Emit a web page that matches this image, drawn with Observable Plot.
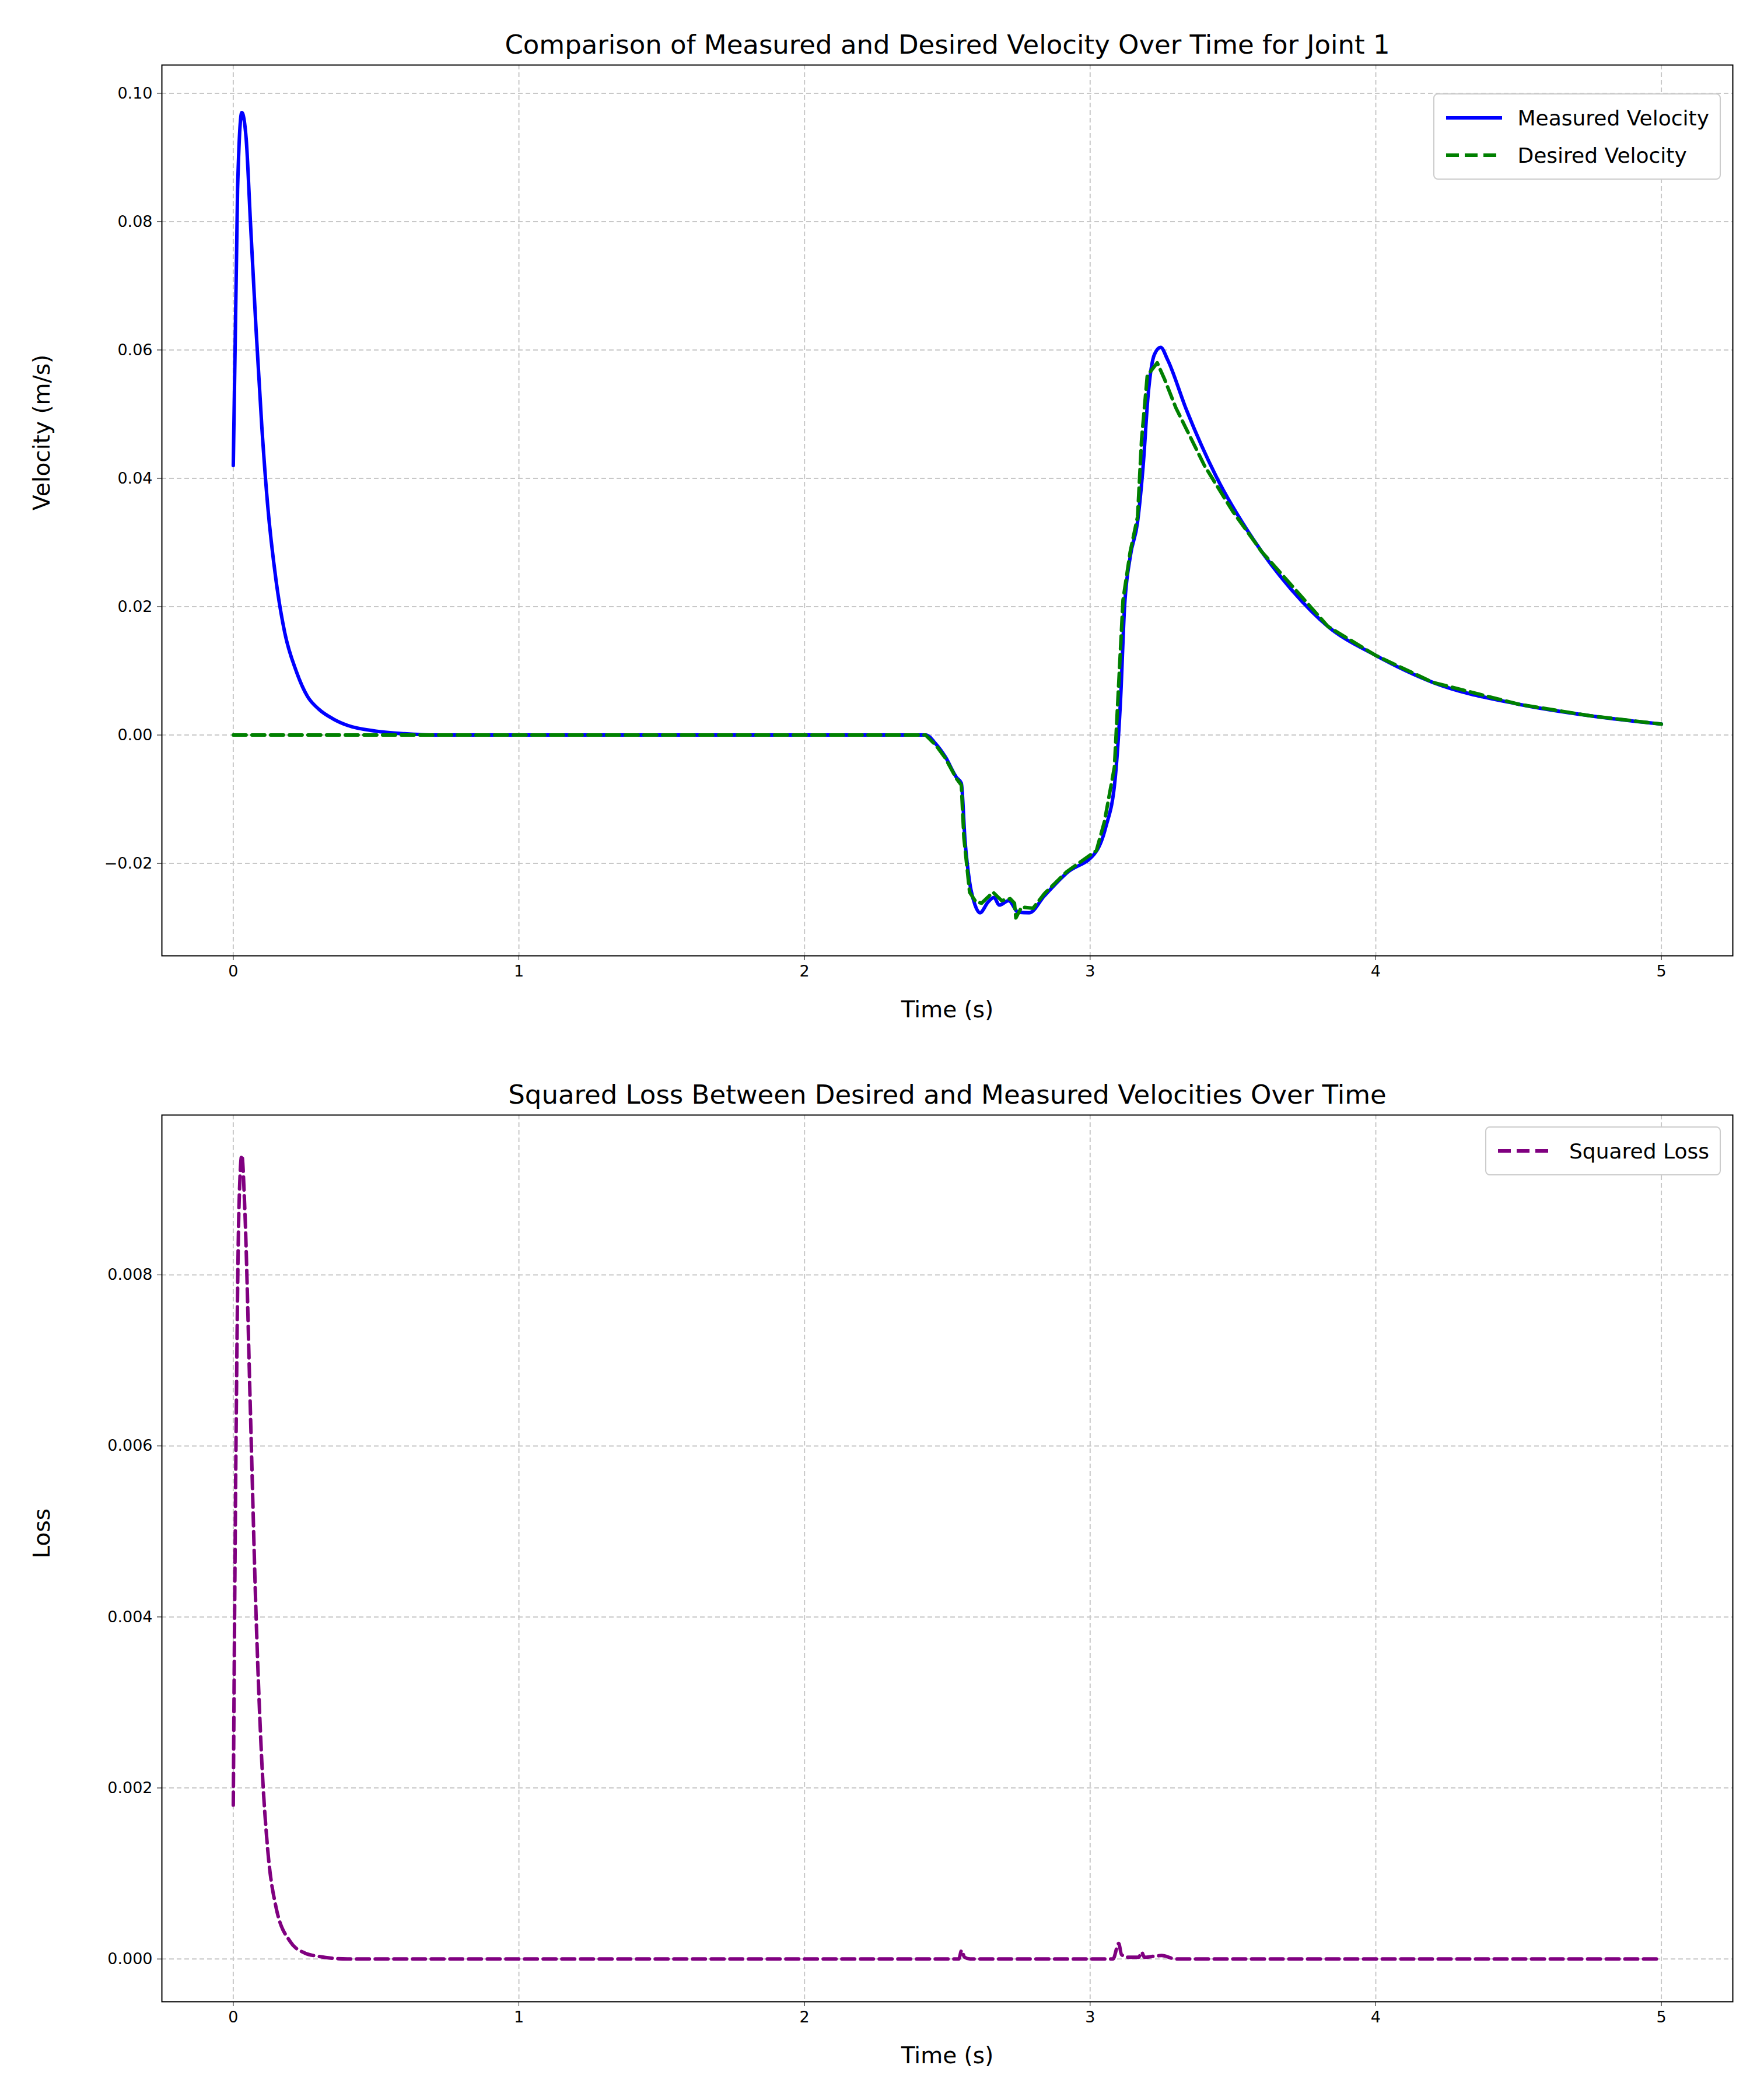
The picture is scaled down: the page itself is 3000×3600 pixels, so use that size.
<!DOCTYPE html>
<html><head><meta charset="utf-8">
<script src="https://cdn.jsdelivr.net/npm/d3@7"></script>
<script src="https://cdn.jsdelivr.net/npm/@observablehq/plot@0.6"></script>
<style>
body{margin:0;background:#fff;font-family:"DejaVu Sans",sans-serif;}
#wrap{position:relative;width:3000px;}
.legend{position:absolute;background:#fff;border:2px solid #ccc;border-radius:8px;font-size:36px;padding:8px 18px;}
.legend div{display:flex;align-items:center;height:64px;}
.legend svg{margin-right:24px;}
</style></head><body>
<div id="wrap"></div>
<script>
const measT=[0,0.015,0.03,0.045,0.06,0.08,0.1,0.12,0.15,0.18,0.22,0.26,0.3,0.35,0.4,0.5,0.6,0.7,2.424,2.46,2.493,2.532,2.549,2.562,2.578,2.597,2.614,2.643,2.663,2.682,2.715,2.748,2.787,2.839,2.918,3.022,3.055,3.088,3.107,3.12,3.14,3.166,3.186,3.203,3.225,3.247,3.271,3.336,3.44,3.571,3.702,3.833,4.0,4.2,4.5,4.75,5.0];
const measV=[0.042,0.085,0.097,0.093,0.080,0.063,0.048,0.036,0.024,0.016,0.010,0.006,0.004,0.0025,0.0015,0.0006,0.0002,0,0,-0.0014,-0.0034,-0.0066,-0.0075,-0.0165,-0.0229,-0.0265,-0.0277,-0.026,-0.0253,-0.0265,-0.0258,-0.0276,-0.0277,-0.0251,-0.0215,-0.0181,-0.0143,-0.0066,0.006,0.0196,0.0277,0.0332,0.0422,0.053,0.0593,0.0604,0.0585,0.0508,0.0404,0.0305,0.0228,0.0169,0.0124,0.0082,0.0048,0.003,0.0017];
const desT=[0,2.424,2.46,2.493,2.532,2.549,2.558,2.578,2.6,2.62,2.66,2.69,2.72,2.735,2.74,2.76,2.8,2.84,2.918,3.022,3.05,3.085,3.1,3.115,3.14,3.166,3.18,3.2,3.235,3.26,3.3,3.4,3.5,3.6,3.833,4.0,4.2,4.5,4.75,5.0];
const desV=[0,0,-0.0016,-0.0036,-0.0068,-0.0078,-0.016,-0.0245,-0.026,-0.0262,-0.0245,-0.0258,-0.0255,-0.0262,-0.0285,-0.0268,-0.027,-0.0247,-0.0213,-0.018,-0.0135,-0.005,0.008,0.021,0.0285,0.034,0.046,0.056,0.058,0.0555,0.051,0.042,0.0348,0.0286,0.0169,0.0124,0.0082,0.0048,0.003,0.0017];
const lossT=[0,0.01,0.02,0.03,0.04,0.06,0.08,0.1,0.12,0.15,0.2,0.25,0.3,0.4,2.54,2.55,2.56,2.58,3.08,3.1,3.11,3.13,3.17,3.18,3.19,3.22,3.25,3.3,5.0];
const lossV=[0.0018,0.0062,0.0088,0.0094,0.0088,0.0064,0.004,0.0023,0.0013,0.0006,0.0002,0.00007,0.00003,0,0,0.0001,0.00002,0,0,0.00018,0.00005,0.00002,0.00002,0.00008,0.00002,0.00003,0.00004,0,0];
const xTicks=[0,1,2,3,4,5];
const vTicks=[-0.02,0,0.02,0.04,0.06,0.08,0.1];
const lTicks=[0,0.002,0.004,0.006,0.008];

const meas=measT.map((t,i)=>({t,v:measV[i]}));
const des=desT.map((t,i)=>({t,v:desV[i]}));
const loss=lossT.map((t,i)=>({t,v:lossV[i]}));
const wrap=document.getElementById("wrap");
const grid="#c8c8c8";
function chart(title,ylabel,yDomain,yTicks,yFmt,marks,mt,mb){
  return Plot.plot({
    width:3000,height:1800,marginLeft:277,marginRight:30,marginTop:mt,marginBottom:mb,
    style:{fontFamily:"DejaVu Sans",fontSize:"27px",background:"#fff",color:"#000"},
    x:{domain:[-0.25,5.25],ticks:xTicks,tickFormat:d=>String(d),label:null,tickSize:8},
    y:{domain:yDomain,ticks:yTicks,tickFormat:yFmt,label:null,tickSize:8},
    marks:[
      Plot.gridX(xTicks,{stroke:grid,strokeOpacity:1,strokeDasharray:"8,5",strokeWidth:2}),
      Plot.gridY(yTicks,{stroke:grid,strokeOpacity:1,strokeDasharray:"8,5",strokeWidth:2}),
      ...marks,
      Plot.frame({stroke:"#000",strokeWidth:2}),
      Plot.axisX({ticks:xTicks,tickFormat:d=>String(d),tickSize:8,fontSize:27,label:null,tickPadding:8}),
      Plot.axisY({ticks:yTicks,tickFormat:yFmt,tickSize:8,fontSize:27,label:null,tickPadding:8}),
      Plot.text([title],{frameAnchor:"top",dy:-20,fontSize:45,textAnchor:"middle",lineAnchor:"bottom"}),
      Plot.text(["Time (s)"],{frameAnchor:"bottom",dy:78,fontSize:39,lineAnchor:"top"}),
      Plot.text([ylabel],{frameAnchor:"left",dx:-205,rotate:-90,fontSize:39})
    ]});
}
const p1=chart("Comparison of Measured and Desired Velocity Over Time for Joint 1","Velocity (m/s)",[-0.0344,0.1044],vTicks,d=>d.toFixed(2).replace("-","−"),[
  Plot.line(meas,{x:"t",y:"v",stroke:"#0000ff",strokeWidth:6,curve:"monotone-x"}),
  Plot.line(des,{x:"t",y:"v",stroke:"#008000",strokeWidth:6,strokeDasharray:"22,10",curve:"linear"})
],111,162);
const p2=chart("Squared Loss Between Desired and Measured Velocities Over Time","Loss",[-0.0005,0.00987],lTicks,d=>d.toFixed(3),[
  Plot.line(loss,{x:"t",y:"v",stroke:"#800080",strokeWidth:6,strokeDasharray:"22,10",curve:"monotone-x"})
],111,169);
wrap.append(p1,p2);
function legend(items,top){
  const d=document.createElement("div");d.className="legend";
  d.style.right="50px";d.style.top=top+"px";
  for(const it of items){
    const r=document.createElement("div");
    r.innerHTML=`<svg width="100" height="20"><line x1="2" x2="98" y1="10" y2="10" stroke="${it.c}" stroke-width="6" ${it.dash?'stroke-dasharray="22,10"':''}/></svg><span>${it.n}</span>`;
    d.append(r);
  }
  wrap.append(d);
}
legend([{n:"Measured Velocity",c:"#0000ff"},{n:"Desired Velocity",c:"#008000",dash:true}],160);
legend([{n:"Squared Loss",c:"#800080",dash:true}],1800+111+20);
</script></body></html>
